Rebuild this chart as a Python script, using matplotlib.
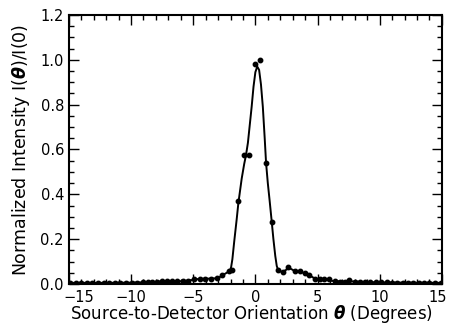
import numpy as np
import matplotlib
matplotlib.use("Agg")
import matplotlib.pyplot as plt
import matplotlib.transforms as mtransforms
from matplotlib.ticker import MultipleLocator

# measured data points (theta in degrees, normalized intensity)
theta_pts = [-14.9, -14.45, -14.0, -13.55, -13.1, -12.65, -12.2, -11.75, -11.3, -10.85,
             -10.4, -9.95, -9.5, -9.05, -8.65, -8.3, -7.9, -7.5, -7.07, -6.7, -6.3,
             -5.86, -5.4, -4.9, -4.43, -4.03, -3.57, -3.1, -2.7, -2.1, -1.85,
             -1.37, -0.94, -0.48, 0.0, 0.4, 0.86, 1.32, 1.8, 2.2, 2.66, 3.15, 3.55,
             4.0, 4.35, 4.8, 5.16, 5.5, 5.9, 6.37, 6.77, 7.18, 7.5, 8.0, 8.4, 8.8,
             9.25, 9.7, 10.1, 10.55, 11.0, 11.4, 11.85, 12.3, 12.7, 13.15, 13.6,
             14.0, 14.45, 14.9]
intensity_pts = [0.005, 0.005, 0.005, 0.004, 0.005, 0.005, 0.004, 0.005, 0.005, 0.005,
                 0.005, 0.006, 0.006, 0.007, 0.008, 0.010, 0.010, 0.011, 0.012, 0.012, 0.012,
                 0.013, 0.015, 0.022, 0.024, 0.024, 0.024, 0.025, 0.038, 0.058, 0.060,
                 0.37, 0.576, 0.576, 0.98, 1.0, 0.539, 0.275, 0.062, 0.053, 0.075, 0.056, 0.058,
                 0.048, 0.040, 0.022, 0.021, 0.022, 0.022, 0.011, 0.010, 0.010, 0.017, 0.010,
                 0.010, 0.010, 0.008, 0.008, 0.008, 0.007, 0.006, 0.006, 0.006, 0.006, 0.005,
                 0.005, 0.005, 0.005, 0.005, 0.005]

# fitted curve
theta_fit = [-15.0, -12.0, -10.0, -9.0, -8.0, -7.0, -6.0, -5.0, -4.5, -3.5, -3.0, -2.7,
             -2.3, -2.05, -1.95, -1.85, -1.7, -1.5, -1.37, -1.1, -0.9, -0.75, -0.6, -0.45,
             -0.3, -0.15, 0.0, 0.15, 0.3, 0.45, 0.6, 0.75, 0.86, 1.0, 1.15, 1.32, 1.45,
             1.6, 1.72, 1.82, 1.95, 2.2, 2.45, 2.66, 2.9, 3.15, 3.55, 4.0,
             4.35, 4.8, 5.5, 6.37, 7.5, 8.8, 10.0, 12.0, 15.0]
intensity_fit = [0.005, 0.005, 0.006, 0.007, 0.010, 0.012, 0.012, 0.018, 0.023, 0.024, 0.026, 0.037,
                 0.050, 0.060, 0.075, 0.11, 0.19, 0.29, 0.36, 0.47, 0.535, 0.576, 0.63, 0.71,
                 0.79, 0.88, 0.945, 0.97, 0.955, 0.89, 0.79, 0.65, 0.54, 0.45, 0.37, 0.275, 0.2,
                 0.125, 0.08, 0.064, 0.057, 0.054, 0.062, 0.072, 0.066, 0.058, 0.056, 0.047,
                 0.038, 0.024, 0.020, 0.012, 0.012, 0.009, 0.007, 0.006, 0.005]

xticks = [-15, -10, -5, 0, 5, 10, 15]
yticks = [0.0, 0.2, 0.4, 0.6, 0.8, 1.0, 1.2]

fig = plt.figure(figsize=(4.5, 3.26), dpi=100)
ax = fig.add_axes([0.153, 0.129, 0.829, 0.825])

ax.plot(theta_fit, intensity_fit, color='black', lw=1.4)
ax.plot(theta_pts, intensity_pts, 'o', color='black', ms=3.2)

ax.set_xlim(-15, 15)
ax.set_ylim(0, 1.2)
ax.set_xticks(xticks)
ax.set_xticklabels([('\u2212' + str(abs(v))) if v < 0 else str(v) for v in xticks])
ax.set_yticks(yticks)
ax.set_yticklabels(['%.1f' % v for v in yticks])
ax.xaxis.set_minor_locator(MultipleLocator(1))
ax.yaxis.set_minor_locator(MultipleLocator(0.05))
ax.tick_params(which='both', direction='in', top=True, right=True, width=1.0,
               labelsize=10.5, colors='black')
ax.tick_params(axis='x', which='major', pad=4)
ax.tick_params(which='major', length=7)
ax.tick_params(which='minor', length=3.5)
for s in ax.spines.values():
    s.set_linewidth(1.5)

# nudge edge tick labels inward like the reference
xlabels = ax.get_xticklabels()
xlabels[0].set_transform(xlabels[0].get_transform() +
                         mtransforms.ScaledTranslation(10 / 100, 0, fig.dpi_scale_trans))
xlabels[-1].set_transform(xlabels[-1].get_transform() +
                          mtransforms.ScaledTranslation(-4 / 100, 0, fig.dpi_scale_trans))

ax.set_xlabel(r'Source-to-Detector Orientation $\boldsymbol{\theta}$ (Degrees)', fontsize=12)
ax.xaxis.set_label_coords(0.49, -0.072)
ax.set_ylabel(r'Normalized Intensity I($\boldsymbol{\theta}$)/I(0)', fontsize=12.5, labelpad=6)

fig.savefig('out.png', dpi=100)
